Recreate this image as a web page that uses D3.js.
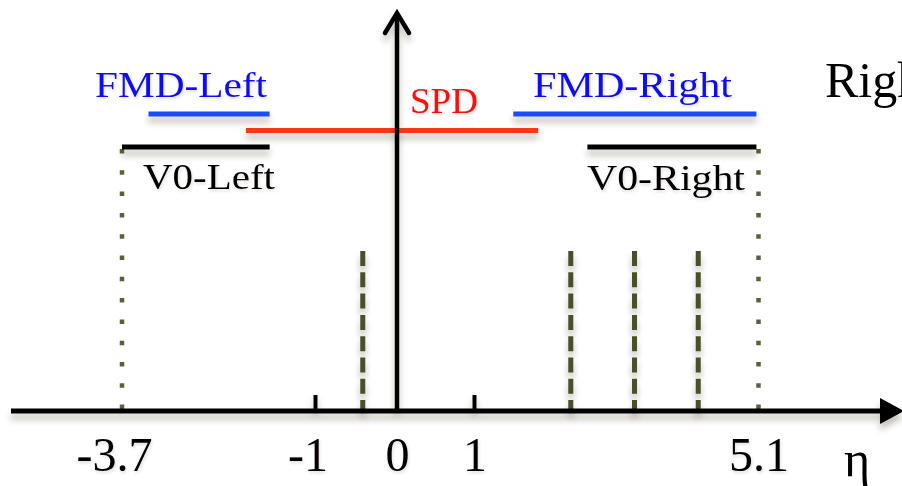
<!DOCTYPE html>
<html>
<head>
<meta charset="utf-8">
<script src="https://cdn.jsdelivr.net/npm/d3@7"></script>
<style>
  html, body { margin: 0; padding: 0; background: #fff; overflow: hidden; }
  svg { display: block; }
  text { font-family: "Liberation Serif", "DejaVu Serif", serif; }
</style>
</head>
<body>
<svg id="chart" width="902" height="486"></svg>
<script>
// Pseudorapidity acceptance of the forward detectors
const tickValues = [-3.7, -1, 0, 1, 5.1];
const minorTicks = [-1, 1];
const detectorNames = ["FMD-Left", "FMD-Right", "SPD", "V0-Left", "V0-Right"];
const detectorRows  = ["FMD", "FMD", "SPD", "V0", "V0"];
const etaLow  = [-3.33, 1.56, -1.97, -3.70, 2.63];
const etaHigh = [-1.64, 5.07, 1.92, -1.64, 5.07];
const ringEta = [-0.42, 2.39, 3.31, 4.23];
const edgeEta = [-3.7, 5.1];

const W = 902, H = 486;
const axisY = 411;

const svg = d3.select("#chart");

// soft drop shadow under strokes
const defs = svg.append("defs");
const f = defs.append("filter").attr("id", "shadow")
  .attr("x", "-20%").attr("y", "-200%").attr("width", "140%").attr("height", "500%")
  .attr("filterUnits", "objectBoundingBox");
f.append("feDropShadow").attr("dx", 0).attr("dy", 6).attr("stdDeviation", 3)
  .attr("flood-color", "#3a2a1a").attr("flood-opacity", 0.3);
const ft = defs.append("filter").attr("id", "tshadow")
  .attr("x", "-20%").attr("y", "-20%").attr("width", "140%").attr("height", "160%");
ft.append("feDropShadow").attr("dx", 1).attr("dy", 2).attr("stdDeviation", 1.5)
  .attr("flood-color", "#3a2a1a").attr("flood-opacity", 0.15);

// schematic (piecewise) eta scale
const x = d3.scaleLinear()
  .domain(tickValues)
  .range([122, 315.5, 397, 474.5, 758.5]);

const row = d3.scalePoint()
  .domain(["FMD", "SPD", "V0"])
  .range([114, 147]);

const rowColor = { FMD: "#1a4cff", SPD: "#ff3412", V0: "#000000" };
const labelColor = { FMD: "#1010f0", SPD: "#ff0a0a", V0: "#000000" };

const detectors = detectorNames.map((name, i) => ({
  name, row: detectorRows[i], lo: etaLow[i], hi: etaHigh[i]
}));

// acceptance edges (dotted)
svg.append("g").selectAll("line").data(edgeEta).join("line")
  .attr("x1", d => x(d)).attr("x2", d => x(d))
  .attr("y1", 149).attr("y2", axisY - 2)
  .attr("stroke", "#5d6236").attr("stroke-width", 4.5)
  .attr("stroke-dasharray", "4.5 16.8");

// rings (dashed)
svg.append("g").attr("filter", "url(#shadow)")
  .selectAll("line").data(ringEta).join("line")
  .attr("x1", d => x(d)).attr("x2", d => x(d))
  .attr("y1", 251).attr("y2", axisY)
  .attr("stroke", "#4a5029").attr("stroke-width", 5)
  .attr("stroke-dasharray", "15 6.3");

// detector coverage bars
svg.append("g").attr("filter", "url(#shadow)")
  .selectAll("line").data(detectors).join("line")
  .attr("x1", d => x(d.lo)).attr("x2", d => x(d.hi))
  .attr("y1", d => row(d.row)).attr("y2", d => row(d.row))
  .attr("stroke", d => rowColor[d.row]).attr("stroke-width", 5);

// detector labels
const labelLayout = {
  "FMD-Left":  { x: 95,  y: 96.5, len: 172 },
  "FMD-Right": { x: 533, y: 97,   len: 199 },
  "SPD":       { x: 410, y: 113,  len: 68 },
  "V0-Left":   { x: 143, y: 189,  len: 132 },
  "V0-Right":  { x: 587, y: 190,  len: 158 }
};
svg.append("g").attr("filter", "url(#tshadow)")
  .selectAll("text").data(detectors).join("text")
  .attr("x", d => labelLayout[d.name].x)
  .attr("y", d => labelLayout[d.name].y)
  .attr("textLength", d => labelLayout[d.name].len)
  .attr("lengthAdjust", "spacingAndGlyphs")
  .attr("font-size", 35)
  .attr("fill", d => labelColor[d.row])
  .text(d => d.name);

// side label running off the right edge
svg.append("text").attr("x", 825).attr("y", 97)
  .attr("font-size", 50).attr("fill", "#000").text("Right");

// horizontal eta axis with filled arrow head
const axisG = svg.append("g").attr("filter", "url(#shadow)");
axisG.append("line")
  .attr("x1", 11).attr("x2", 884).attr("y1", axisY).attr("y2", axisY)
  .attr("stroke", "#000").attr("stroke-width", 5);
axisG.append("path")
  .attr("d", `M880,${axisY - 13}L904,${axisY}L880,${axisY + 13}Z`)
  .attr("fill", "#000");

// small ticks above the axis
axisG.selectAll("line.tick").data(minorTicks).join("line")
  .attr("class", "tick")
  .attr("x1", d => x(d)).attr("x2", d => x(d))
  .attr("y1", 395).attr("y2", axisY)
  .attr("stroke", "#000").attr("stroke-width", 4);

// vertical axis at eta = 0 with open arrow head
axisG.append("line")
  .attr("x1", x(0)).attr("x2", x(0)).attr("y1", axisY).attr("y2", 14)
  .attr("stroke", "#000").attr("stroke-width", 4.5);
axisG.append("path")
  .attr("d", `M${x(0) - 12},33L${x(0)},13L${x(0) + 12},33`)
  .attr("fill", "none").attr("stroke", "#000").attr("stroke-width", 4.5)
  .attr("stroke-linecap", "round").attr("stroke-linejoin", "miter");

// tick labels
const labelAxis = d3.axisBottom(x)
  .tickValues(tickValues)
  .tickSize(0)
  .tickFormat(d => d3.format("")(d).replace("\u2212", "-"));
const lab = svg.append("g")
  .attr("transform", `translate(0,${axisY})`)
  .attr("filter", "url(#tshadow)")
  .call(labelAxis);
lab.select(".domain").remove();
lab.selectAll(".tick text")
  .attr("y", 60).attr("dy", 0)
  .attr("dx", d => d < 0 ? -8 : 0)
  .attr("font-size", 48)
  .attr("font-family", "\"Liberation Serif\", \"DejaVu Serif\", serif")
  .attr("fill", "#000");

// axis title
svg.append("text").attr("x", 857).attr("y", 476)
  .attr("text-anchor", "middle").attr("font-size", 50)
  .attr("fill", "#000").text("η");
</script>
</body>
</html>
